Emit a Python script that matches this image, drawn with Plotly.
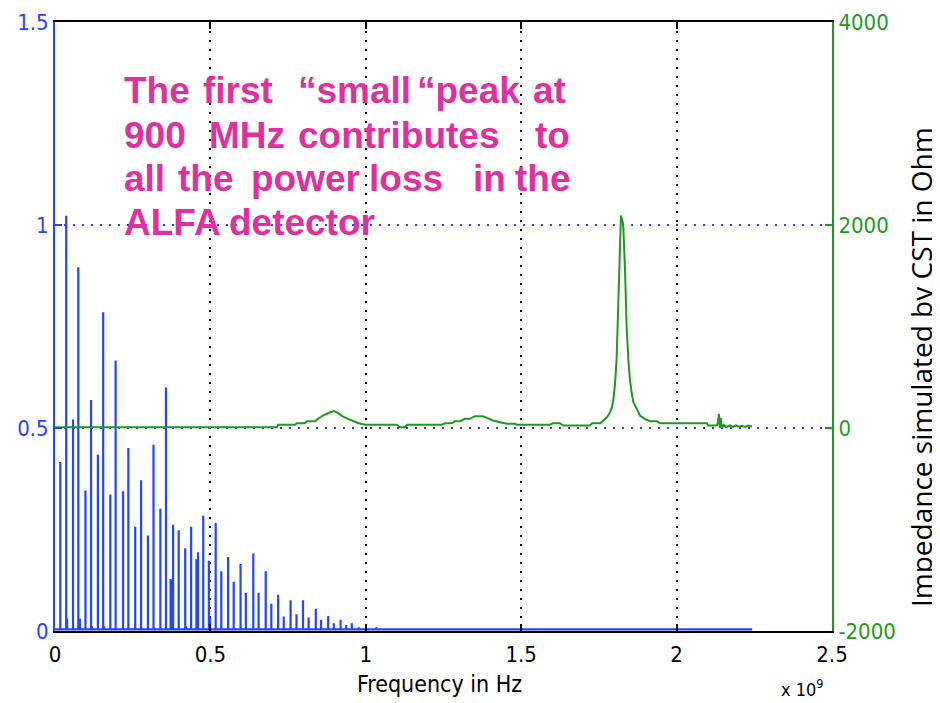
import plotly.graph_objects as go

# ---------------- data ----------------
# Beam power spectrum lines: frequency in GHz (axis is "x 10^9 Hz"), normalised amplitude
spec_freq = [0.017, 0.036, 0.039, 0.058, 0.075, 0.080, 0.098, 0.116, 0.119, 0.138,
             0.155, 0.158, 0.178, 0.195, 0.219, 0.236, 0.258, 0.277, 0.299, 0.317,
             0.339, 0.357, 0.372, 0.376, 0.380, 0.398, 0.419, 0.422, 0.438, 0.455,
             0.460, 0.477, 0.495, 0.499, 0.517, 0.535, 0.557, 0.575, 0.597, 0.614,
             0.638, 0.655, 0.678, 0.696, 0.718, 0.736, 0.758, 0.777, 0.798, 0.816,
             0.839, 0.856, 0.879, 0.897, 0.919, 0.937, 0.955, 0.977, 1.034]
spec_amp = [0.416, 1.023, 0.030, 0.521, 0.896, 0.030, 0.346, 0.569, 0.012, 0.434,
            0.785, 0.012, 0.336, 0.666, 0.344, 0.451, 0.257, 0.371, 0.235, 0.459,
            0.301, 0.600, 0.128, 0.125, 0.262, 0.248, 0.204, 0.012, 0.257, 0.177,
            0.194, 0.284, 0.173, 0.033, 0.266, 0.147, 0.182, 0.121, 0.165, 0.094,
            0.191, 0.094, 0.147, 0.067, 0.089, 0.036, 0.076, 0.041, 0.076, 0.033,
            0.055, 0.028, 0.037, 0.019, 0.028, 0.015, 0.019, 0.009, 0.009]
spec_floor = 0.004
spec_end = 2.243

# Impedance simulated by CST: frequency in GHz, Ohm
imp_freq = [0.0, 0.660, 0.714, 0.718, 0.772, 0.779, 0.804, 0.811, 0.837, 0.846,
            0.862, 0.882, 0.898, 0.911, 0.927, 0.943, 0.959, 0.975, 0.997, 1.100,
            1.110, 1.126, 1.133, 1.245, 1.255, 1.277, 1.287, 1.303, 1.319, 1.335,
            1.351, 1.377, 1.390, 1.409, 1.432, 1.454, 1.480, 1.486, 1.593, 1.602,
            1.625, 1.635, 1.721, 1.728, 1.754, 1.763, 1.776, 1.786, 1.792, 1.796,
            1.802, 1.807, 1.812, 1.818, 1.821, 1.824, 1.828, 1.834, 1.839, 1.845,
            1.850, 1.856, 1.861, 1.872, 1.882, 1.898, 1.914, 1.937, 1.946, 2.098,
            2.101, 2.130, 2.133, 2.136, 2.139, 2.142, 2.146, 2.152, 2.159, 2.172,
            2.182, 2.191, 2.201, 2.210, 2.220, 2.230, 2.243]
imp_ohm = [8, 8, 8, 32, 32, 47, 47, 67, 67, 90,
           123, 150, 166, 146, 113, 90, 67, 50, 32, 32,
           8, 8, 32, 32, 47, 47, 67, 67, 90, 90,
           116, 116, 100, 74, 57, 41, 41, 32, 32, 47,
           47, 25, 25, 47, 47, 74, 106, 156, 205, 271,
           435, 682, 1141, 1815, 2094, 2060, 2012, 1568, 1010, 665,
           468, 337, 254, 189, 123, 90, 67, 67, 47, 47,
           25, 25, 60, 140, 0, 100, -5, 30, 10, 25,
           10, 25, 12, 22, 10, 25, 15]

x_ticks = [0, 0.5, 1, 1.5, 2, 2.5]
x_ticktext = ["0", "0.5", "1", "1.5", "2", "2.5"]
y_ticks = [0, 0.5, 1, 1.5]
y_ticktext = ["0", "0.5", "1", "1.5"]
y2_ticks = [-2000, 0, 2000, 4000]
y2_ticktext = ["-2000", "0", "2000", "4000"]

note_lines = [
    ["The", "first", "\u201csmall", "\u201cpeak", "at"],
    ["900", "MHz", "contributes", "to"],
    ["all", "the", "power", "loss", "in", "the"],
    ["ALFA", "detector"],
]

# ---------------- styling ----------------
BLUE = "#2345ff"
GREEN = "#1f9a1f"
MAGENTA = "#e0309f"
TICKFONT = "DejaVu Sans Condensed, Liberation Sans Narrow, Liberation Sans, Arial"

# the page body has an 8px margin: the figure is drawn 8px in from the window corner
OFF = 8
W, H = 940 - OFF, 703 - OFF
# plot area in window pixels
SL, SR, ST, SB = 55, 832, 22, 631


def px(x):
    return (x - SL) / (SR - SL)


def py(y):
    return (SB - y) / (SB - ST)


# stem-like spectrum line built from the peak list
sx, sy = [0.0], [spec_floor]
for f, a in zip(spec_freq, spec_amp):
    sx += [f, f, f]
    sy += [spec_floor, a, spec_floor]
sx.append(spec_end)
sy.append(spec_floor)

fig = go.Figure()
fig.add_trace(go.Scatter(x=sx, y=sy, mode="lines", line=dict(color=BLUE, width=2.2),
                         yaxis="y", showlegend=False, hoverinfo="skip"))
fig.add_trace(go.Scatter(x=imp_freq, y=imp_ohm, mode="lines",
                         line=dict(color=GREEN, width=2, shape="linear"),
                         yaxis="y2", showlegend=False, hoverinfo="skip"))

fig.update_layout(
    width=W, height=H,
    margin=dict(l=SL - OFF, r=940 - SR, t=ST - OFF, b=703 - SB, autoexpand=False),
    paper_bgcolor="white", plot_bgcolor="white",
    xaxis=dict(range=[0, 2.5], tickvals=x_ticks, ticktext=x_ticktext,
               showline=True, linecolor="black", linewidth=2, mirror="ticks",
               ticks="inside", ticklen=7, tickwidth=2, tickcolor="black",
               showgrid=True, gridcolor="black", gridwidth=1.5, griddash="2px,7px",
               zeroline=False, tickfont=dict(family=TICKFONT, size=22, color="black"),
               ticklabelstandoff=3, automargin=False),
    yaxis=dict(range=[0, 1.5], tickvals=y_ticks, ticktext=y_ticktext,
               showline=True, linecolor=BLUE, linewidth=2,
               ticks="inside", ticklen=7, tickwidth=2, tickcolor=BLUE,
               showgrid=True, gridcolor=BLUE, gridwidth=1.5, griddash="2px,7px",
               zeroline=False, automargin=False,
               tickfont=dict(family=TICKFONT, size=22, color=BLUE)),
    yaxis2=dict(range=[-2000, 4000], tickvals=y2_ticks, ticktext=y2_ticktext,
                overlaying="y", side="right",
                showline=True, linecolor=GREEN, linewidth=2,
                ticks="inside", ticklen=7, tickwidth=2, tickcolor=GREEN,
                showgrid=False, zeroline=False, automargin=False,
                tickfont=dict(family=TICKFONT, size=22, color=GREEN)),
)

ann = []
# annotation words (justified block): left window-pixel of each word per line
word_x = [[123, 202, 297, 416, 532],
          [123, 208, 297, 534],
          [123, 177, 250, 368, 472, 514],
          [123, 228]]
line_base = [104, 148.5, 191.5, 235.5]
for words, xs, yb in zip(note_lines, word_x, line_base):
    for w, xw in zip(words, xs):
        ann.append(dict(text="<b>" + w + "</b>", x=px(xw), y=py(yb - 13),
                        xref="paper", yref="paper", xanchor="left", yanchor="middle",
                        showarrow=False, borderpad=0,
                        font=dict(family="Liberation Sans, Arial", size=37, color=MAGENTA)))

ann.append(dict(text="Frequency in Hz", x=px(439), y=py(684), xref="paper", yref="paper",
                xanchor="center", yanchor="middle", showarrow=False,
                font=dict(family=TICKFONT, size=23, color="black")))
ann.append(dict(text="x 10<sup>9</sup>", x=px(779), y=py(688), xref="paper", yref="paper",
                xanchor="left", yanchor="middle", showarrow=False,
                font=dict(family=TICKFONT, size=18, color="black")))
ann.append(dict(text="Impedance simulated by CST in Ohm", textangle=-90,
                x=px(921), y=py(367), xref="paper", yref="paper",
                xanchor="center", yanchor="middle", showarrow=False,
                font=dict(family="Open Sans, Liberation Sans", size=28, color="black")))
fig.update_layout(annotations=ann)

fig.write_html("out.html")
